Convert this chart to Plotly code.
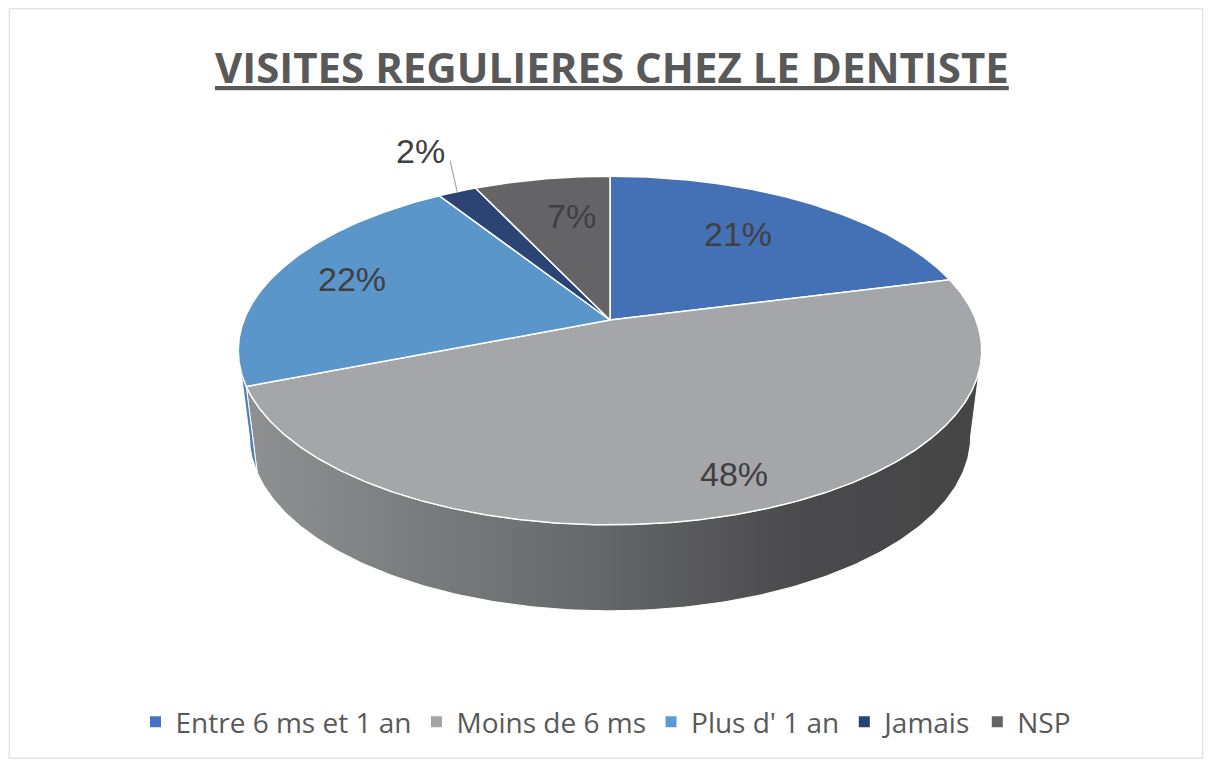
import numpy as np
import plotly.graph_objects as go

# ---------------- data ----------------
categories = ["Entre 6 ms et 1 an", "Moins de 6 ms", "Plus d' 1 an", "Jamais", "NSP"]
values = [21, 48, 22, 2, 7]
labels = ["21%", "48%", "22%", "2%", "7%"]
title_text = "VISITES REGULIERES CHEZ LE DENTISTE"

# ---------------- style ----------------
top_colors = ["#4470B6", "#A5A6A9", "#5B96CA", "#2B4474", "#646466"]
legend_colors = ["#4472C4", "#A5A5A5", "#5B9BD5", "#264478", "#636363"]
label_radius = [0.68, 0.84, 0.78, 1.0, 0.70]
label_shift = [-0.06, -0.04, 0.02, 0.0, 0.05]   # angular tweak (rad)
outside = [False, False, False, True, False]

W, H, OFF = 1196, 751, 8          # figure size and body margin
CX, CY = 610.0, 320.0             # pie centre (page px)
R, A, K = 366.0, 169.0, 0.175     # radius, vertical half-axis, perspective
DEPTH, S = 86.0, 0.97             # side depth, bottom scale


def proj(u, v, bottom=False):
    u = np.asarray(u, float)
    v = np.asarray(v, float)
    d = 1 + K * v
    x = CX + R * u / d
    y = CY - A * v / d
    if bottom:
        x = CX + S * (x - CX)
        y = y + DEPTH
    return x, y


def hex_scale(c, f):
    c = c.lstrip("#")
    r, g, b = (int(c[i:i + 2], 16) for i in (0, 2, 4))
    return "#%02x%02x%02x" % (int(r * f), int(g * f), int(b * f))


fig = go.Figure()

total = float(sum(values))
cum = np.concatenate([[0], np.cumsum(values)]) / total * 2 * np.pi
vis_lo = np.arccos(-K)
vis_hi = 2 * np.pi - vis_lo

# side faces
for i, c in enumerate(top_colors):
    a, b = max(cum[i], vis_lo), min(cum[i + 1], vis_hi)
    if a >= b:
        continue
    th = np.linspace(a, b, 200)
    xt, yt = proj(np.sin(th), np.cos(th))
    xb, yb = proj(np.sin(th[::-1]), np.cos(th[::-1]), bottom=True)
    xs = np.concatenate([xt, xb, xt[:1]])
    ys = np.concatenate([yt, yb, yt[:1]])
    cs = [[0, hex_scale(c, 0.88)], [0.45, hex_scale(c, 0.64)],
          [0.75, hex_scale(c, 0.45)], [1, hex_scale(c, 0.42)]]
    fig.add_trace(go.Scatter(
        x=xs, y=ys, mode="lines", fill="toself",
        fillgradient=dict(type="horizontal", colorscale=cs,
                          start=CX - R - 10, stop=CX + R + 10),
        line=dict(color="white", width=1), hoverinfo="skip", showlegend=False))

# top faces
for i, c in enumerate(top_colors):
    th = np.linspace(cum[i], cum[i + 1], max(int((cum[i + 1] - cum[i]) * 180), 4))
    xt, yt = proj(np.sin(th), np.cos(th))
    xs = np.concatenate([[CX], xt, [CX]])
    ys = np.concatenate([[CY], yt, [CY]])
    fig.add_trace(go.Scatter(
        x=xs, y=ys, mode="lines", fill="toself", fillcolor=c,
        line=dict(color="white", width=1.5), hoverinfo="skip", showlegend=False))

# labels
annotations = []
for i, lab in enumerate(labels):
    mid = (cum[i] + cum[i + 1]) / 2 + label_shift[i]
    r = label_radius[i]
    lx, ly = proj(r * np.sin(mid), r * np.cos(mid))
    lx, ly = float(lx), float(ly)
    if outside[i]:
        ex, ey = lx - 7, ly - 31
        fig.add_trace(go.Scatter(x=[lx, ex], y=[ly, ey], mode="lines",
                                 line=dict(color="#A6A6A6", width=1.2),
                                 hoverinfo="skip", showlegend=False))
        lx, ly = ex - 30, ey - 10
    annotations.append(dict(x=lx, y=ly, xref="x", yref="y", text=lab, showarrow=False,
                            font=dict(family="Liberation Sans, Arial", size=34, color="#404040"),
                            xanchor="center", yanchor="middle"))

annotations.append(dict(x=CX + 2, y=66, xref="x", yref="y", text="<b>" + title_text + "</b>",
                        showarrow=False, xanchor="center", yanchor="middle",
                        font=dict(family="Open Sans", size=42,
                                  color="#595959", lineposition="under")))

# legend entries
for name, c in zip(categories, legend_colors):
    fig.add_trace(go.Scatter(x=[None], y=[None], mode="markers", name=name,
                             marker=dict(symbol="square", size=11, color=c)))

fig.update_layout(
    width=W, height=H,
    margin=dict(l=0, r=0, t=0, b=0),
    paper_bgcolor="white", plot_bgcolor="white",
    xaxis=dict(range=[OFF, OFF + W], visible=False, fixedrange=True),
    yaxis=dict(range=[OFF + H, OFF], visible=False, fixedrange=True),
    annotations=annotations,
    showlegend=True,
    legend=dict(orientation="h", x=0.5, xanchor="center", y=1 - (722 - OFF) / H,
                yanchor="middle", font=dict(family="Open Sans", size=28, color="#595959"),
                itemclick=False, itemdoubleclick=False),
    shapes=[dict(type="rect", xref="paper", yref="paper", x0=0.001, y0=0.001,
                 x1=0.999, y1=0.999, line=dict(color="#D9D9D9", width=1))],
)

fig.write_html("out.html")
